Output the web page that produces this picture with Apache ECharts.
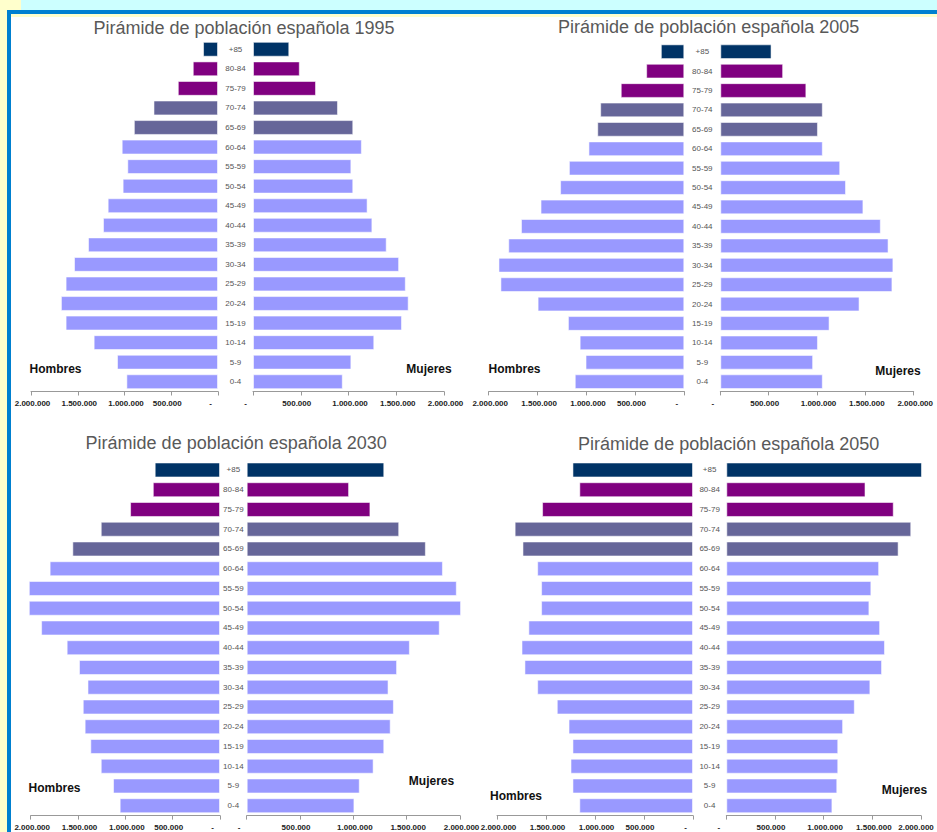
<!DOCTYPE html>
<html>
<head>
<meta charset="utf-8">
<script src="https://cdn.jsdelivr.net/npm/echarts@6/dist/echarts.min.js"></script>
<style>
  html, body { margin: 0; padding: 0; width: 937px; height: 832px; overflow: hidden; background: #ffffcc; }
  .deco { position: absolute; }
  #chart { position: absolute; left: 0; top: 0; width: 937px; height: 832px; }
</style>
</head>
<body>
<div class="deco" style="left:21px;top:0;width:916px;height:10px;background:#ccffff;"></div>
<div class="deco" style="left:7px;top:10px;width:930px;height:4px;background:#0080d0;"></div>
<div class="deco" style="left:7px;top:10px;width:4px;height:822px;background:#0080d0;"></div>
<div class="deco" style="left:11px;top:17px;width:926px;height:815px;background:#ffffff;"></div>
<div id="chart"></div>
<script>
// ---- Data (bottom to top) ----
const ageGroups = ['0-4','5-9','10-14','15-19','20-24','25-29','30-34','35-39','40-44','45-49','50-54','55-59','60-64','65-69','70-74','75-79','80-84','+85'];

const men1995   = [980000,1080000,1330000,1630000,1680000,1630000,1540000,1390000,1230000,1180000,1020000,970000,1030000,900000,690000,430000,270000,160000];
const women1995 = [940000,1030000,1270000,1560000,1630000,1600000,1530000,1400000,1250000,1200000,1050000,1030000,1140000,1050000,890000,660000,490000,380000];

const men2005   = [1120000,1010000,1070000,1190000,1500000,1880000,1900000,1800000,1670000,1470000,1270000,1180000,980000,890000,860000,650000,390000,240000];
const women2005 = [1060000,960000,1010000,1130000,1440000,1780000,1790000,1740000,1660000,1480000,1300000,1240000,1060000,1010000,1060000,890000,650000,530000];

const men2030   = [1060000,1130000,1260000,1370000,1430000,1450000,1400000,1490000,1620000,1890000,2020000,2020000,1800000,1560000,1260000,950000,710000,690000];
const women2030 = [1010000,1060000,1190000,1290000,1350000,1380000,1330000,1410000,1530000,1810000,2010000,1970000,1840000,1680000,1430000,1160000,960000,1290000];

const men2050   = [1160000,1230000,1250000,1230000,1270000,1390000,1590000,1720000,1750000,1680000,1550000,1550000,1590000,1740000,1820000,1540000,1160000,1230000];
const women2050 = [1090000,1140000,1150000,1150000,1200000,1320000,1480000,1600000,1630000,1580000,1470000,1490000,1570000,1770000,1900000,1720000,1430000,2010000];

const tickLabels = ['-', '500.000', '1.000.000', '1.500.000', '2.000.000'];
const sideLabels = ['Hombres', 'Mujeres'];
const titles = ['Pirámide de población española 1995','Pirámide de población española 2005','Pirámide de población española 2030','Pirámide de población española 2050'];

// ---- Layout / style ----
const panels = [
  { title: titles[0], men: men1995, women: women1995, menX: [31, 218], womenX: [253, 444], top: 39.5, bottom: 391.5, titleXY: [244, 27.5], hom: [55.5, 369], muj: [429, 369], lastShift: 0 },
  { title: titles[1], men: men2005, women: women2005, menX: [488.7, 684.3], womenX: [720.3, 913.7], top: 42, bottom: 391.4, titleXY: [708.7, 27], hom: [514.5, 368.5], muj: [898, 371], lastShift: 0 },
  { title: titles[2], men: men2030, women: women2030, menX: [30.7, 220], womenX: [246.7, 460], top: 460.1, bottom: 815.6, titleXY: [236.2, 443], hom: [54.5, 787.7], muj: [431.5, 781], lastShift: 0 },
  { title: titles[3], men: men2050, women: women2050, menX: [497, 693], womenX: [726.3, 921], top: 460.1, bottom: 815.6, titleXY: [728.7, 444], hom: [516, 796], muj: [904.5, 790], lastShift: -5 }
];

function barColor(i) {
  if (i === 17) return '#003366';
  if (i >= 15) return '#800080';
  if (i >= 13) return '#666699';
  return '#9999ff';
}

const FONT = '"Liberation Sans", Arial, sans-serif';
function makeRich(lastShift) {
  const last = lastShift < 0 ? [0, -2 * lastShift, 0, 0] : [0, 0, 0, 3];
  return {
    s0: { padding: [0, 15, 0, 0] },
    s1: { padding: [0, 8, 0, 0] },
    s2: { padding: [0, 0, 0, 3] },
    s3: { padding: [0, 0, 0, 3] },
    s4: { padding: last }
  };
}

const grids = [], xAxes = [], yAxes = [], series = [], graphics = [];

panels.forEach((p, k) => {
  const h = p.bottom - p.top;
  const sides = [
    { x: p.menX, data: p.men, inverse: true, rich: makeRich(0) },
    { x: p.womenX, data: p.women, inverse: false, rich: makeRich(p.lastShift) }
  ];
  sides.forEach((s, j) => {
    const gi = grids.length;
    grids.push({ left: s.x[0], top: p.top, width: s.x[1] - s.x[0], height: h, containLabel: false, outerBoundsMode: 'none' });
    xAxes.push({
      type: 'value', gridIndex: gi, min: 0, max: 2000000, interval: 500000, inverse: s.inverse,
      axisLine: { show: true, lineStyle: { color: '#999999', width: 1 } },
      axisTick: { show: true, length: 4, lineStyle: { color: '#999999' } },
      splitLine: { show: false },
      axisLabel: {
        margin: 8, fontSize: 8, fontWeight: 'bold', color: '#222', fontFamily: FONT,
        formatter: function (v) { const i = Math.round(v / 500000); return '{s' + i + '|' + tickLabels[i] + '}'; },
        rich: s.rich
      }
    });
    const gap = (p.womenX[0] - p.menX[1]) / 2;
    yAxes.push({
      type: 'category', gridIndex: gi, data: ageGroups,
      position: j === 0 ? 'right' : 'left',
      axisLine: { show: false }, axisTick: { show: false },
      axisLabel: j === 0 ? { show: true, align: 'center', margin: gap, fontSize: 8, color: '#555', fontFamily: FONT, interval: 0 } : { show: false }
    });
    series.push({
      type: 'bar', xAxisIndex: gi, yAxisIndex: gi, data: s.data, barCategoryGap: '24%', clip: false,
      silent: true, animation: false,
      itemStyle: { color: (param) => barColor(param.dataIndex), borderColor: 'rgba(255,255,255,0.55)', borderWidth: 1 }
    });
  });
  graphics.push({ type: 'text', x: p.titleXY[0], y: p.titleXY[1], silent: true,
    style: { text: p.title, textAlign: 'center', textVerticalAlign: 'middle', font: '18px ' + FONT, fill: '#595959' } });
  graphics.push({ type: 'text', x: p.hom[0], y: p.hom[1], silent: true,
    style: { text: sideLabels[0], textAlign: 'center', textVerticalAlign: 'middle', font: 'bold 12px ' + FONT, fill: '#111' } });
  graphics.push({ type: 'text', x: p.muj[0], y: p.muj[1], silent: true,
    style: { text: sideLabels[1], textAlign: 'center', textVerticalAlign: 'middle', font: 'bold 12px ' + FONT, fill: '#111' } });
});

const chart = echarts.init(document.getElementById('chart'), null, { renderer: 'svg', width: 937, height: 832 });
chart.setOption({
  backgroundColor: 'transparent',
  animation: false,
  grid: grids,
  xAxis: xAxes,
  yAxis: yAxes,
  series: series,
  graphic: { elements: graphics }
});
</script>
</body>
</html>
